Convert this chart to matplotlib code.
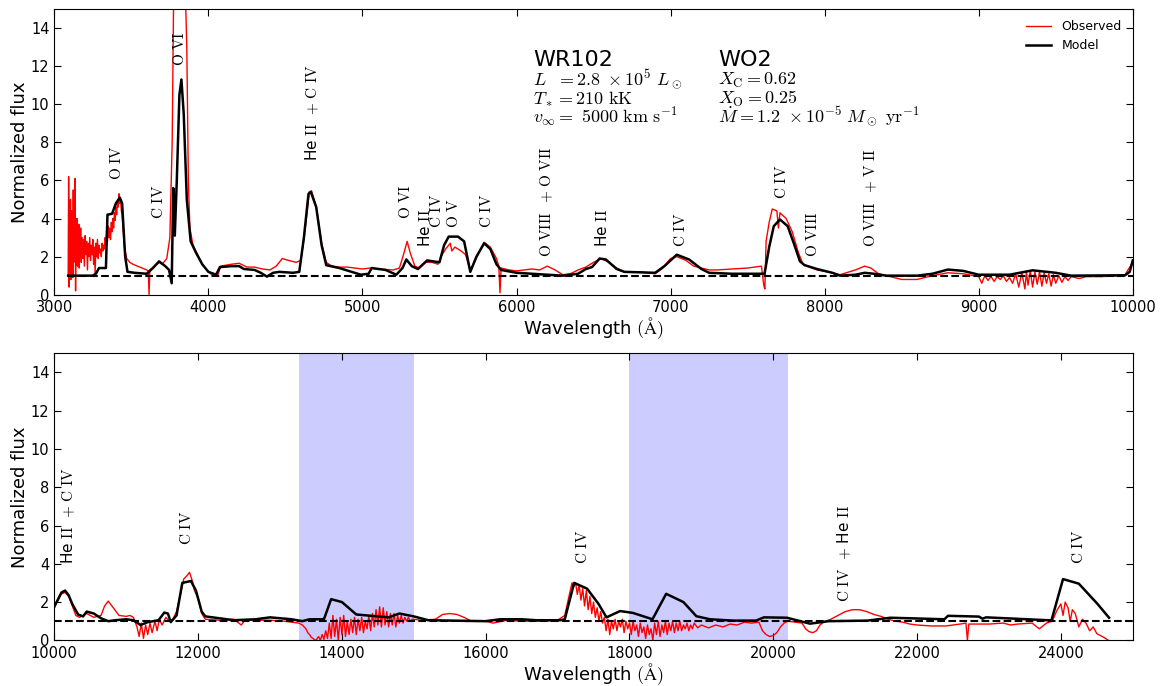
import numpy as np
import matplotlib
matplotlib.use("Agg")
import matplotlib.pyplot as plt

plt.rcParams["mathtext.fontset"] = "cm"
plt.rcParams["xtick.direction"] = "in"
plt.rcParams["ytick.direction"] = "in"
plt.rcParams["xtick.top"] = True
plt.rcParams["ytick.right"] = True

# ---- top panel: optical (3000-10000 A) ----
obs_top_wave = [3090, 3093, 3096, 3099, 3102, 3105, 3108, 3111, 3114, 3117, 3120, 3123,
                3126, 3129, 3132, 3135, 3138, 3141, 3144, 3147, 3150, 3153, 3156, 3159,
                3162, 3165, 3168, 3171, 3175, 3180, 3185, 3190, 3195, 3200, 3205, 3210,
                3215, 3220, 3225, 3230, 3235, 3240, 3245, 3250, 3255, 3260, 3265, 3270,
                3275, 3280, 3285, 3290, 3295, 3300, 3305, 3310, 3315, 3320, 3325, 3330,
                3335, 3340, 3345, 3350, 3355, 3360, 3365, 3370, 3375, 3380, 3385, 3390,
                3395, 3400, 3405, 3410, 3415, 3420, 3425, 3430, 3435, 3440,
                3455, 3470, 3490, 3510, 3540, 3570, 3600, 3610, 3615, 3620, 3650, 3680,
                3700, 3730, 3750, 3765, 3775, 3850, 3860, 3870, 3880, 3900, 3930, 3960,
                4000, 4030, 4060, 4080, 4150, 4200, 4250, 4300, 4350, 4400, 4440, 4480,
                4520, 4570, 4600, 4625, 4655, 4670, 4700, 4735, 4765, 4800, 4850, 4900,
                5000, 5050, 5100, 5200, 5240, 5270, 5290, 5310, 5340, 5370, 5410, 5450,
                5490, 5510, 5540, 5570, 5580, 5600, 5640, 5670, 5700, 5750, 5790, 5830,
                5870, 5885, 5893, 5900, 5950, 6000, 6050, 6100, 6150, 6200, 6250, 6300,
                6350, 6400, 6450, 6500, 6550, 6600, 6650, 6700, 6800, 6900, 6950, 7000,
                7040, 7100, 7150, 7200, 7250, 7300, 7400, 7500, 7590, 7605, 7612, 7620,
                7640, 7660, 7690, 7700, 7710, 7750, 7790, 7830, 7860, 7950, 8050, 8100,
                8200, 8260, 8300, 8350, 8400, 8500, 8600, 8700, 8800, 8900,
                9000, 9020, 9040, 9060, 9080, 9100, 9120, 9140, 9160, 9180, 9200, 9220,
                9240, 9260, 9280, 9300, 9310, 9320, 9335, 9350, 9365, 9380, 9395, 9410,
                9425, 9440, 9455, 9470, 9485, 9500, 9520, 9540, 9560, 9580, 9600, 9650,
                9700, 9800, 9900, 9950, 10000]
obs_top_flux = [1.0, 6.2, 0.4, 4.1, 1.3, 5.0, 0.8, 4.4, 1.6, 3.9, 0.9, 5.5,
                1.7, 4.2, 2.1, 6.1, 0.2, 3.6, 1.9, 4.0, 1.5, 3.4, 2.2, 3.7,
                1.4, 3.2, 2.0, 3.5, 1.7, 3.0, 1.9, 2.9, 1.5, 3.1, 2.1, 2.8,
                1.3, 2.7, 2.0, 3.0, 1.8, 2.6, 2.1, 2.9, 1.6, 2.5, 1.1, 2.7,
                2.0, 2.9, 1.9, 2.6, 2.2, 2.4, 2.0, 2.7, 2.3, 2.6, 2.4, 3.0,
                2.6, 3.4, 2.8, 3.6, 3.0, 3.5, 2.9, 3.8, 3.3, 4.0, 3.5, 4.3,
                3.9, 4.6, 4.2, 4.9, 4.6, 5.3, 4.8, 5.0, 4.4, 4.2,
                2.5, 1.9, 1.7, 1.6, 1.5, 1.4, 1.3, 1.25, 0.0, 1.3, 1.5, 1.7,
                1.6, 1.9, 3.0, 8.0, 16.0, 16.0, 13.0, 6.0, 3.5, 2.6, 2.1, 1.6,
                1.2, 1.0, 1.0, 1.5, 1.6, 1.65, 1.45, 1.45, 1.35, 1.3, 1.5, 1.9,
                1.8, 1.7, 1.8, 3.2, 5.4, 5.45, 4.6, 2.7, 1.7, 1.5, 1.45, 1.45,
                1.35, 1.4, 1.35, 1.3, 1.4, 2.2, 2.8, 2.2, 1.5, 1.4, 1.7, 1.7,
                1.6, 2.0, 2.4, 2.7, 2.3, 2.5, 2.3, 2.1, 1.25, 2.1, 2.75, 2.5,
                1.9, 1.5, 0.1, 1.4, 1.3, 1.25, 1.3, 1.35, 1.3, 1.5, 1.3, 1.05,
                1.1, 1.3, 1.45, 1.7, 1.9, 1.7, 1.4, 1.2, 1.2, 1.1, 1.4, 1.9,
                2.0, 1.8, 1.5, 1.4, 1.3, 1.3, 1.35, 1.4, 1.5, 0.5, 0.3, 2.8,
                3.8, 4.5, 4.4, 3.5, 4.3, 4.0, 3.3, 2.2, 1.6, 1.3, 1.15, 1.05,
                1.3, 1.5, 1.4, 1.1, 1.0, 0.8, 0.8, 1.0, 1.15, 1.1,
                0.95, 0.6, 1.0, 0.75, 0.95, 0.7, 0.95, 0.8, 1.0, 0.7, 0.9, 0.6,
                1.1, 0.4, 1.15, 0.3, 1.2, 0.5, 1.25, 0.4, 1.2, 0.55, 1.2, 0.45,
                1.15, 0.6, 1.1, 0.45, 1.05, 0.6, 1.0, 0.65, 0.95, 0.75, 0.95, 0.85,
                0.95, 0.95, 1.0, 1.05, 1.7]

model_top_wave = [3090, 3250, 3270, 3290, 3335, 3345, 3375, 3400, 3425, 3440, 3460, 3475,
                  3520, 3600, 3640, 3680, 3720, 3745, 3762, 3772, 3782, 3795, 3812, 3825,
                  3840, 3860, 3885, 3920, 3960, 4000, 4050, 4075, 4150, 4200, 4230, 4300,
                  4340, 4380, 4420, 4460, 4550, 4590, 4620, 4650, 4665, 4700, 4735, 4765,
                  4850, 4950, 4990, 5040, 5060, 5150, 5220, 5260, 5285, 5320, 5360, 5420,
                  5460, 5500, 5530, 5560, 5620, 5660, 5700, 5740, 5790, 5830, 5870, 5900,
                  6000, 6200, 6300, 6400, 6450, 6490, 6540, 6580, 6650, 6700, 6900, 6960,
                  7040, 7120, 7200, 7250, 7400, 7610, 7640, 7670, 7710, 7760, 7800, 7840,
                  7870, 7950, 8050, 8100, 8200, 8260, 8320, 8400, 8600, 8700, 8800, 8900,
                  9000, 9200, 9350, 9500, 9600, 9950, 9980, 10000]
model_top_flux = [1.0, 1.0, 1.1, 1.4, 1.4, 4.2, 4.25, 4.8, 5.1, 4.8, 2.0, 1.2,
                  1.15, 1.1, 1.4, 1.75, 1.5, 1.3, 0.6, 5.6, 3.1, 6.0, 10.5, 11.3,
                  9.5, 5.0, 2.8, 2.2, 1.6, 1.2, 1.05, 1.45, 1.5, 1.5, 1.35, 1.3,
                  1.15, 0.95, 1.15, 1.2, 1.15, 1.2, 3.0, 5.3, 5.4, 4.6, 2.6, 1.55,
                  1.4, 1.15, 1.05, 1.1, 1.4, 1.3, 1.05, 1.4, 1.85, 1.5, 1.35, 1.8,
                  1.75, 1.7, 2.6, 3.05, 3.05, 2.8, 1.2, 2.0, 2.7, 2.4, 1.6, 1.3,
                  1.15, 1.05, 1.0, 1.1, 1.35, 1.45, 1.9, 1.85, 1.35, 1.2, 1.15, 1.5,
                  2.1, 1.85, 1.35, 1.15, 1.1, 1.1, 2.5, 3.6, 3.95, 3.6, 2.7, 1.75,
                  1.55, 1.35, 1.15, 1.0, 1.05, 1.15, 1.1, 1.0, 1.0, 1.1, 1.32, 1.25,
                  1.05, 1.05, 1.28, 1.15, 1.0, 1.02, 1.2, 1.8]

# ---- bottom panel: near-IR (10000-25000 A) ----
obs_bot_wave = [10000, 10080, 10150, 10200, 10300, 10350, 10450, 10550, 10650, 10700, 10750,
                10800, 10900, 11000, 11050, 11100, 11150, 11180, 11210, 11240, 11270, 11300,
                11330, 11360, 11400, 11430, 11460, 11500, 11550, 11600, 11650, 11700, 11750,
                11800, 11850, 11880, 11920, 11950, 12000, 12050, 12100, 12300, 12500, 12600,
                12650, 12800, 13000, 13200,
                13400, 13450, 13500, 13525, 13550, 13575, 13600, 13625, 13650, 13675, 13700,
                13725, 13750, 13775, 13800, 13825, 13850, 13875, 13900, 13925, 13950, 13975,
                14000, 14025, 14050, 14075, 14100, 14125, 14150, 14175, 14200, 14225, 14250,
                14275, 14300, 14325, 14350, 14375, 14400, 14425, 14450, 14475, 14500, 14525,
                14550, 14575, 14600, 14625, 14650, 14675, 14700, 14725, 14750, 14775, 14800,
                14825, 14850, 14875, 14900, 14925, 14950, 14975, 15000,
                15100, 15300, 15400, 15500, 15600, 15700, 15800, 16000, 16100, 16300, 16500,
                16800, 17000, 17100,
                17200, 17225, 17250, 17275, 17300, 17325, 17350, 17375, 17400, 17425, 17450,
                17475, 17500, 17525, 17550, 17575, 17600, 17625,
                17650, 17675, 17700, 17725, 17750, 17775, 17800, 17825, 17850, 17875, 17900,
                17925, 17950, 17975, 18000, 18025, 18050, 18075, 18100, 18125, 18150, 18175,
                18200, 18225, 18250, 18275, 18300, 18325, 18350, 18375, 18400, 18425, 18450,
                18475, 18500, 18525, 18550, 18575, 18600, 18625, 18650, 18675, 18700, 18725,
                18750, 18775, 18800, 18825, 18850, 18875, 18900, 18950,
                19000, 19100, 19200, 19300, 19400, 19500, 19600, 19700, 19800, 19850,
                19900, 19950, 20000, 20050, 20100, 20150, 20200, 20300, 20400, 20450, 20500,
                20550, 20600, 20650, 20700, 20800, 20900, 21000, 21100, 21200, 21300, 21400,
                21500, 21600, 21700, 21800, 21900, 22000, 22200, 22400, 22500, 22600, 22680,
                22700, 22720, 22900, 23000, 23200, 23300, 23400, 23600, 23700, 23800, 23880,
                23950, 24000, 24030, 24060, 24100, 24130, 24160, 24200, 24250, 24300, 24350,
                24400, 24450, 24500, 24600, 24660]
obs_bot_flux = [1.8, 2.4, 2.5, 2.3, 1.3, 1.2, 1.4, 1.2, 1.3, 1.8, 2.05,
                1.8, 1.3, 1.25, 1.3, 1.2, 0.7, 0.2, 0.9, 0.1, 0.8, 0.3,
                0.9, 0.4, 1.0, 0.5, 1.1, 0.8, 1.2, 1.0, 1.1, 1.5, 2.3,
                3.2, 3.4, 3.55, 3.1, 2.6, 2.2, 1.4, 1.1, 1.05, 1.1, 0.8,
                1.05, 1.05, 1.05, 1.0,
                0.9, 0.8, 0.6, 0.4, 0.3, 0.15, 0.1, 0.0, 0.05, 0.2, 0.0,
                0.3, 0.05, 0.5, 0.1, 0.9, 0.1, 1.3, 0.2, 1.1, 0.0, 1.2,
                0.3, 1.3, 0.2, 1.0, 0.3, 1.1, 0.4, 1.2, 0.3, 1.1, 0.5,
                1.2, 0.4, 1.0, 0.6, 1.3, 0.5, 1.4, 0.7, 1.6, 0.8, 1.75,
                0.7, 1.7, 0.8, 1.5, 0.7, 1.4, 0.8, 1.4, 0.7, 1.3, 0.9,
                1.3, 0.9, 1.2, 1.0, 1.2, 1.0, 1.1, 1.1,
                1.05, 1.1, 1.35, 1.4, 1.35, 1.2, 1.0, 1.0, 0.9, 1.05, 1.0,
                1.0, 1.05, 1.3,
                3.0, 2.8, 3.0, 2.4, 2.9, 2.1, 2.7, 1.8, 2.6, 1.6, 2.3,
                1.4, 2.0, 1.2, 1.7, 1.0, 1.5, 0.9,
                1.2, 0.5, 1.1, 0.3, 1.0, 0.6, 1.1, 0.5, 1.0, 0.7, 1.1,
                0.4, 1.0, 0.6, 0.9, 0.3, 1.0, 0.5, 0.8, 0.2, 0.9, 0.4,
                0.7, 0.1, 0.8, 0.3, 0.6, 0.0, 0.9, 0.3, 1.0, 0.2, 0.8,
                0.4, 1.0, 0.3, 0.9, 0.5, 1.0, 0.4, 0.9, 0.5, 1.0, 0.5,
                0.8, 0.6, 0.9, 0.5, 0.8, 0.6, 0.9, 0.65,
                0.8, 0.65, 0.8, 0.7, 0.85, 0.8, 0.95, 0.9, 0.95, 0.5,
                0.3, 0.2, 0.25, 0.4, 0.7, 0.9, 1.0, 0.95, 0.9, 0.6, 0.45,
                0.4, 0.5, 0.8, 0.95, 1.1, 1.3, 1.5, 1.6, 1.6, 1.5, 1.35,
                1.25, 1.1, 1.0, 0.95, 0.85, 0.8, 0.75, 0.75, 0.8, 0.85, 0.9,
                0.0, 0.85, 0.85, 0.85, 0.9, 0.8, 0.85, 0.9, 0.6, 0.9, 1.0,
                1.6, 1.9, 1.3, 2.0, 1.7, 1.0, 1.6, 1.4, 0.7, 1.1, 0.9,
                0.5, 0.7, 0.35, 0.15, 0.0]

model_bot_wave = [10000, 10100, 10150, 10200, 10250, 10330, 10400, 10450, 10550, 10650,
                  10750, 10850, 11000, 11100, 11200, 11300, 11450, 11530, 11580, 11620,
                  11700, 11780, 11900, 11970, 12050, 12100, 12500, 12800, 13000, 13300,
                  13450, 13550, 13750, 13850, 14000, 14200, 14500, 14650, 14800, 15000,
                  15200, 16000, 16200, 16500, 16700, 17040, 17100, 17230, 17410, 17570,
                  17680, 17870, 18050, 18320, 18510, 18750, 18930, 19120, 19440, 19760,
                  19870, 20190, 20510, 20770, 21310, 21630, 22380, 22430, 22860, 22910,
                  22960, 23820, 23870, 24030, 24250, 24510, 24670]
model_bot_flux = [1.75, 2.5, 2.6, 2.35, 1.9, 1.35, 1.25, 1.5, 1.4, 1.15,
                  1.0, 1.05, 1.1, 1.05, 0.8, 0.95, 1.05, 1.45, 1.4, 0.95,
                  1.3, 3.0, 3.1, 2.6, 1.5, 1.25, 1.05, 1.1, 1.2, 1.1,
                  1.0, 1.1, 1.1, 2.15, 2.0, 1.35, 1.25, 1.2, 1.4, 1.25,
                  1.05, 1.0, 1.1, 1.1, 1.05, 1.05, 1.1, 3.0, 2.7, 1.9,
                  1.2, 1.53, 1.43, 1.1, 2.43, 2.0, 1.26, 1.1, 1.03, 1.03,
                  1.2, 1.18, 0.87, 1.0, 1.03, 1.18, 1.1, 1.28, 1.24, 1.13,
                  1.2, 1.05, 1.05, 3.2, 2.96, 1.9, 1.18]

# telluric bands shaded in the IR panel
bands = [(13400, 15000), (18000, 20200)]

# line identifications: (wavelength, y of text start, label)
lines_top = [
    (3403, 6.0, r"$\mathrm{O\ IV}$"),
    (3677, 4.0, r"$\mathrm{C\ IV}$"),
    (3813, 12.0, r"$\mathrm{O\ VI}$"),
    (4672, 7.0, r"He $\mathrm{II}$  $+\ \mathrm{C\ IV}$"),
    (5281, 4.0, r"$\mathrm{O\ VI}$"),
    (5405, 2.5, r"He $\mathrm{II}$"),
    (5480, 3.5, r"$\mathrm{C\ IV}$"),
    (5592, 3.5, r"$\mathrm{O\ V}$"),
    (5803, 3.5, r"$\mathrm{C\ IV}$"),
    (6197, 2.0, r"$\mathrm{O\ VIII}$  $+\ \mathrm{O\ VII}$"),
    (6556, 2.5, r"He $\mathrm{II}$"),
    (7063, 2.5, r"$\mathrm{C\ IV}$"),
    (7721, 5.0, r"$\mathrm{C\ IV}$"),
    (7918, 2.0, r"$\mathrm{O\ VIII}$"),
    (8296, 2.5, r"$\mathrm{O\ VIII}$  $+\ \mathrm{V\ II}$"),
]
lines_bot = [
    (10187, 4.0, r"He $\mathrm{II}$  $+\ \mathrm{C\ IV}$"),
    (11835, 5.0, r"$\mathrm{C\ IV}$"),
    (17350, 4.0, r"$\mathrm{C\ IV}$"),
    (20990, 2.0, r"$\mathrm{C\ IV}$  $+$ He $\mathrm{II}$"),
    (24247, 4.0, r"$\mathrm{C\ IV}$"),
]

star_params = [r"$L\ \ =2.8\ \times 10^5\ L_\odot$",
               r"$T_*=210\ \mathrm{kK}$",
               r"$v_\infty=\ 5000\ \mathrm{km\ s^{-1}}$"]
comp_params = [r"$X_\mathrm{C}=0.62$",
               r"$X_\mathrm{O}=0.25$",
               r"$\dot M=1.2\ \times 10^{-5}\ M_\odot\ \mathrm{yr}^{-1}$"]
param_rows = [11.0, 10.0, 9.05]

fig = plt.figure(figsize=(11.63, 6.86), dpi=100)
ax1 = fig.add_axes([0.0467, 0.5704, 0.9273, 0.4165])
ax2 = fig.add_axes([0.0467, 0.0666, 0.9273, 0.4184])

ax1.plot(obs_top_wave, obs_top_flux, color="red", lw=1.0, label="Observed")
ax1.plot(model_top_wave, model_top_flux, color="black", lw=1.8, label="Model")
ax1.plot([3090, 10000], [1, 1], "k--", lw=1.5)
ax1.set_xlim(3000, 10000)
ax1.set_xticks(range(3000, 10001, 1000))

for lo, hi in bands:
    ax2.axvspan(lo, hi, color="blue", alpha=0.2, lw=0)
ax2.plot(obs_bot_wave, obs_bot_flux, color="red", lw=1.0)
ax2.plot(model_bot_wave, model_bot_flux, color="black", lw=1.8)
ax2.plot([10000, 25000], [1, 1], "k--", lw=1.5)
ax2.set_xlim(10000, 25000)
ax2.set_xticks(range(10000, 24001, 2000))

for ax, lines in ((ax1, lines_top), (ax2, lines_bot)):
    ax.set_ylim(0, 15)
    ax.set_yticks(range(0, 15, 2))
    ax.tick_params(labelsize=10.5, length=5)
    ax.tick_params(axis="x", pad=4)
    ax.set_ylabel("Normalized flux", fontsize=13, labelpad=1)
    ax.set_xlabel(r"Wavelength $(\mathrm{\AA})$", fontsize=13, labelpad=0)
    for wl, y, lab in lines:
        ax.text(wl, y, lab, rotation=90, ha="center", va="bottom", fontsize=11)

ax1.text(6110, 12.0, "WR102", fontsize=16)
ax1.text(7310, 12.0, "WO2", fontsize=16)
for y, s1, s2 in zip(param_rows, star_params, comp_params):
    ax1.text(6110, y, s1, fontsize=13)
    ax1.text(7310, y, s2, fontsize=13)

ax1.legend(loc="upper right", frameon=False, fontsize=9, handlelength=2)

fig.savefig("out.png", dpi=100)
